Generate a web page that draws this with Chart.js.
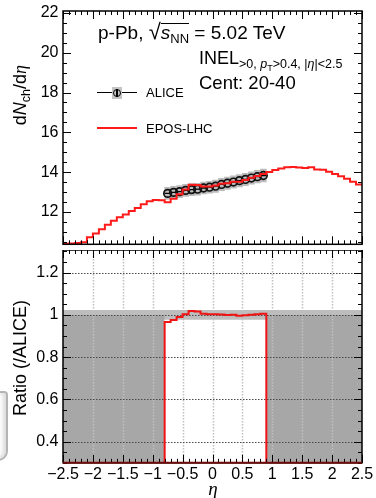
<!DOCTYPE html>
<html lang="en">
<head>
<meta charset="utf-8">
<title>dNch/deta p-Pb 5.02 TeV, Cent 20-40</title>
<style>
body { margin: 0; background: #fff; }
#wrap { position: relative; width: 376px; height: 498px; overflow: hidden; background: #fff;
        font-family: "Liberation Sans", Arial, sans-serif; color: #000; }
#wrap canvas { position: absolute; left: 0; }
.txt { position: absolute; white-space: nowrap; line-height: 1; }
.rot { position: absolute; width: 200px; text-align: right; white-space: nowrap; line-height: 18px;
       font-size: 18px; transform: rotate(-90deg); transform-origin: 0 0; }
.lo { position: relative; line-height: 0; }
.mk { position: absolute; }
</style>
</head>
<body>
<div id="wrap">
  <canvas id="mainChart" width="376" height="250" style="top:0"></canvas>
  <canvas id="ratioChart" width="376" height="248" style="top:250px"></canvas>

  <div class="txt" style="left:98px;top:23px;font-size:19px">p-Pb, <span class="lo" style="font-size:22px">√</span><span style="display:inline-block;line-height:17px;border-top:1.3px solid #000"><i>s</i><span class="lo" style="font-size:13px;top:4px">NN</span></span> = 5.02 TeV</div>
  <div class="txt" style="left:199px;top:49px;font-size:18px">INEL<span class="lo" style="font-size:12.5px;top:4px">&gt;0, <i>p</i><span class="lo" style="font-size:9px;top:3px">T</span>&gt;0.4, |<i>η</i>|&lt;2.5</span></div>
  <div class="txt" style="left:199px;top:74px;font-size:18.5px">Cent: 20-40</div>

  <!-- legend -->
  <div class="mk" style="left:97px;top:92px;width:40px;height:1.3px;background:#000"></div>
  <div class="mk" style="left:112px;top:87px;width:10px;height:12px;background:#c4c4c4"></div>
  <div class="mk" style="left:116.4px;top:88.5px;width:1.2px;height:8.5px;background:#000"></div>
  <div class="mk" style="left:113px;top:88.7px;width:8px;height:8px;box-sizing:border-box;border:1.5px solid #000;border-radius:50%"></div>
  <div class="txt" style="left:146px;top:85.6px;font-size:13px">ALICE</div>
  <div class="mk" style="left:97px;top:127px;width:40px;height:2px;background:#ff1a1a"></div>
  <div class="txt" style="left:146px;top:121.6px;font-size:13px">EPOS-LHC</div>

  <!-- axis titles -->
  <div class="rot" style="left:11px;top:265px">d<i>N</i><span class="lo" style="font-size:12.5px;top:4px">ch</span>/d<i style="font-family:'Liberation Serif',serif">η</i></div>
  <div class="rot" style="left:11px;top:500px">Ratio (/ALICE)</div>
  <div class="txt" style="left:203px;top:479px;width:20px;text-align:center;font-size:19px;font-family:'Liberation Serif',serif"><i>η</i></div>

  <div class="mk" style="left:-14px;top:391px;width:22px;height:70px;box-sizing:border-box;border:2px solid #b4b4b4;border-left:none;border-radius:0 4px 10px 0;box-shadow:inset -3px 0 4px rgba(0,0,0,0.15)"></div>
</div>

<script src="https://cdn.jsdelivr.net/npm/chart.js@4"></script>
<script>
// eta binning of the histograms
const ETA_LO = -2.5;
const ETA_HI = 2.5;
const BIN_W = 0.1;

// EPOS-LHC dNch/deta, 50 bins from -2.5 to 2.5
const eposDndeta = [
  10.40, 10.41, 10.43, 10.47, 10.72, 10.91, 11.13, 11.35, 11.56, 11.73,
  11.87, 12.04, 12.20, 12.38, 12.53, 12.60, 12.59, 12.49, 12.66, 12.89,
  13.12, 13.36, 13.35, 13.27, 13.28, 13.33, 13.41, 13.44, 13.51, 13.52,
  13.60, 13.71, 13.81, 13.91, 14.00, 14.10, 14.18, 14.25, 14.26, 14.23,
  14.21, 14.25, 14.13, 14.12, 14.02, 13.90, 13.79, 13.67, 13.52, 13.38
];

// ALICE measurement, 17 bins from -0.8 to 0.9
const aliceEtaLo = -0.8;
const aliceEtaHi = 0.9;
const aliceDndeta = [
  12.93, 12.98, 13.02, 13.08, 13.12, 13.14, 13.20, 13.24, 13.29,
  13.38, 13.44, 13.50, 13.57, 13.63, 13.70, 13.77, 13.83
];
const aliceStat = [
  0.02, 0.02, 0.02, 0.02, 0.02, 0.02, 0.02, 0.02, 0.02,
  0.02, 0.02, 0.02, 0.02, 0.02, 0.02, 0.02, 0.02
];
const aliceSyst = [
  0.30, 0.30, 0.30, 0.30, 0.30, 0.30, 0.30, 0.30, 0.31,
  0.31, 0.31, 0.31, 0.31, 0.31, 0.31, 0.32, 0.32
];

// ratio panel: relative ALICE uncertainty band and the fill level outside the ALICE range
const ratioBand = 0.023;
const ratioNoData = 1.0;

const etaTicks = [-2.5, -2, -1.5, -1, -0.5, 0, 0.5, 1, 1.5, 2, 2.5];
const dndetaTicks = [12, 14, 16, 18, 20, 22];
const ratioTicks = [0.4, 0.6, 0.8, 1, 1.2];

const r2 = v => Math.round(v * 1000) / 1000;
const edge = i => r2(ETA_LO + i * BIN_W);
const fmtTick = v => String(Math.round(v * 100) / 100).replace('-', '\u2212');

const aliceOffset = Math.round((aliceEtaLo - ETA_LO) / BIN_W);

// histogram as points on the lower bin edges plus the last upper edge
const eposPoints = eposDndeta.map((v, i) => ({x: edge(i), y: v}));
eposPoints.push({x: ETA_HI, y: eposDndeta[eposDndeta.length - 1]});

const aliceCenters = aliceDndeta.map((v, i) => r2(aliceEtaLo + (i + 0.5) * BIN_W));
const alicePoints = aliceDndeta.map((v, i) => ({x: aliceCenters[i], y: v}));
const aliceBoxes = aliceDndeta.map((v, i) => ({x: aliceCenters[i], y: [v - aliceSyst[i], v + aliceSyst[i]]}));

// EPOS / ALICE, zero where ALICE has no bin
const ratioPoints = [{x: ETA_LO, y: 0}];
aliceDndeta.forEach((v, i) => {
    ratioPoints.push({x: r2(aliceEtaLo + i * BIN_W), y: eposDndeta[aliceOffset + i] / v});
});
ratioPoints.push({x: aliceEtaHi, y: 0}, {x: ETA_HI, y: 0});

Chart.defaults.font.family = '"Liberation Sans", Arial, sans-serif';
Chart.defaults.color = '#000';

// frame and inward tick marks on all four sides
const framePlugin = {
    id: 'frame',
    afterDraw(chart, args, opts) {
        const {ctx, chartArea: a} = chart;
        const xs = chart.scales.x, ys = chart.scales.y;
        const isMajor = (v, step) => Math.abs(v / step - Math.round(v / step)) < 1e-6;
        ctx.save();
        ctx.strokeStyle = '#000';
        ctx.lineWidth = 1;
        ctx.beginPath();
        for (let k = Math.ceil(xs.min / opts.xStep[1] - 1e-6); k * opts.xStep[1] <= xs.max + 1e-6; k++) {
            const v = k * opts.xStep[1];
            const len = isMajor(v, opts.xStep[0]) ? opts.majorLen : opts.minorLen;
            const px = Math.round(xs.getPixelForValue(v)) + 0.5;
            ctx.moveTo(px, a.bottom); ctx.lineTo(px, a.bottom - len);
            ctx.moveTo(px, a.top); ctx.lineTo(px, a.top + len);
        }
        for (let k = Math.ceil(ys.min / opts.yStep[1] - 1e-6); k * opts.yStep[1] <= ys.max + 1e-6; k++) {
            const v = k * opts.yStep[1];
            const len = isMajor(v, opts.yStep[0]) ? opts.majorLen : opts.minorLen;
            const py = Math.round(ys.getPixelForValue(v)) + 0.5;
            ctx.moveTo(a.left, py); ctx.lineTo(a.left + len, py);
            ctx.moveTo(a.right, py); ctx.lineTo(a.right - len, py);
        }
        ctx.stroke();
        ctx.lineWidth = 1.5;
        ctx.strokeRect(a.left, a.top, a.right - a.left, a.bottom - a.top);
        if (opts.bottomColor) {
            ctx.strokeStyle = opts.bottomColor;
            ctx.lineWidth = 2;
            ctx.beginPath();
            ctx.moveTo(a.left, a.bottom); ctx.lineTo(a.right, a.bottom);
            ctx.stroke();
        }
        ctx.restore();
    }
};

// ALICE error bars: bin width horizontally, statistical vertically
const errorBarPlugin = {
    id: 'errorBars',
    beforeDatasetDraw(chart, args) {
        if (args.index !== 1) return;
        const {ctx} = chart;
        const xs = chart.scales.x, ys = chart.scales.y;
        ctx.save();
        ctx.strokeStyle = '#000';
        ctx.lineWidth = 1.3;
        ctx.beginPath();
        aliceDndeta.forEach((v, i) => {
            const c = aliceCenters[i];
            const py = ys.getPixelForValue(v);
            ctx.moveTo(xs.getPixelForValue(c - BIN_W / 2), py);
            ctx.lineTo(xs.getPixelForValue(c + BIN_W / 2), py);
            const px = xs.getPixelForValue(c);
            ctx.moveTo(px, ys.getPixelForValue(v - aliceStat[i]));
            ctx.lineTo(px, ys.getPixelForValue(v + aliceStat[i]));
        });
        ctx.stroke();
        ctx.restore();
    }
};

// dotted grid of the ratio panel, above the bands and below the ratio line
const ratioGridPlugin = {
    id: 'ratioGrid',
    beforeDatasetDraw(chart, args) {
        if (args.index !== 0) return;
        const {ctx, chartArea: a} = chart;
        const xs = chart.scales.x, ys = chart.scales.y;
        ctx.save();
        ctx.setLineDash([1.5, 1.5]);
        ctx.strokeStyle = '#c0c0c0';
        ctx.lineWidth = 1.5;
        ctx.beginPath();
        etaTicks.slice(1, -1).forEach(v => {
            const px = Math.round(xs.getPixelForValue(v)) + 0.5;
            ctx.moveTo(px, a.top); ctx.lineTo(px, a.bottom);
        });
        ctx.stroke();
        ctx.strokeStyle = '#4a4a4a';
        ctx.lineWidth = 1.2;
        ctx.beginPath();
        ratioTicks.forEach(v => {
            const py = Math.round(ys.getPixelForValue(v)) + 0.5;
            ctx.moveTo(a.left, py); ctx.lineTo(a.right, py);
        });
        ctx.stroke();
        ctx.restore();
    }
};

const yAxisCommon = (ticks) => ({
    grid: {display: false, drawTicks: false},
    border: {display: false},
    afterBuildTicks: s => { s.ticks = ticks.map(v => ({value: v})); },
    afterFit: s => { s.width = 63; s.paddingTop = 0; s.paddingBottom = 0; },
    ticks: {padding: 4.5, font: {size: 16}, color: '#000', callback: fmtTick}
});

new Chart(document.getElementById('mainChart'), {
    type: 'line',
    data: {
        datasets: [{
            label: 'EPOS-LHC',
            data: eposPoints,
            stepped: 'before',
            borderColor: '#ff1a1a',
            borderWidth: 2,
            pointRadius: 0,
            fill: false
        }, {
            label: 'ALICE',
            data: alicePoints,
            showLine: false,
            pointStyle: 'circle',
            pointRadius: 3.8,
            pointBorderWidth: 1.7,
            pointBorderColor: '#111',
            pointBackgroundColor: 'rgba(0,0,0,0)'
        }, {
            type: 'bar',
            label: 'ALICE syst.',
            data: aliceBoxes,
            backgroundColor: '#bcbcbc',
            borderWidth: 0,
            barPercentage: 1,
            categoryPercentage: 1,
            grouped: false
        }]
    },
    options: {
        responsive: false,
        animation: false,
        events: [],
        layout: {padding: {top: 11, right: 14, bottom: 0, left: 0}},
        plugins: {
            legend: {display: false},
            tooltip: {enabled: false},
            frame: {xStep: [0.5, 0.1], yStep: [2, 0.5], majorLen: 8, minorLen: 4}
        },
        scales: {
            x: {
                type: 'linear', min: ETA_LO, max: ETA_HI, offset: false,
                grid: {display: false, drawTicks: false, offset: false},
                border: {display: false},
                ticks: {display: false},
                afterFit: s => { s.height = 0; s.paddingLeft = 0; s.paddingRight = 0; }
            },
            y: Object.assign({min: 10.37, max: 22.1}, yAxisCommon(dndetaTicks))
        }
    },
    plugins: [errorBarPlugin, framePlugin]
});

const flat = (x0, x1, y) => [{x: x0, y: y}, {x: x1, y: y}];
const noLine = {borderWidth: 0, borderColor: 'rgba(0,0,0,0)', pointRadius: 0};

new Chart(document.getElementById('ratioChart'), {
    type: 'line',
    data: {
        datasets: [{
            label: 'EPOS-LHC / ALICE',
            data: ratioPoints,
            stepped: 'before',
            borderColor: '#f01414',
            borderWidth: 2,
            pointRadius: 0,
            fill: false
        }, Object.assign({
            label: 'no ALICE data (left)',
            data: flat(ETA_LO, aliceEtaLo, ratioNoData),
            fill: 'start',
            backgroundColor: '#a7a7a7'
        }, noLine), Object.assign({
            label: 'no ALICE data (right)',
            data: flat(aliceEtaHi, ETA_HI, ratioNoData),
            fill: 'start',
            backgroundColor: '#a7a7a7'
        }, noLine), Object.assign({
            label: 'ALICE unc. high',
            data: flat(ETA_LO, ETA_HI, 1 + ratioBand),
            fill: '+1',
            backgroundColor: '#bdbdbd'
        }, noLine), Object.assign({
            label: 'ALICE unc. low',
            data: flat(ETA_LO, ETA_HI, 1 - ratioBand),
            fill: false
        }, noLine)]
    },
    options: {
        responsive: false,
        animation: false,
        events: [],
        layout: {padding: {top: 0, right: 14, bottom: 0, left: 0}},
        plugins: {
            legend: {display: false},
            tooltip: {enabled: false},
            frame: {xStep: [0.5, 0.1], yStep: [0.2, 0.05], majorLen: 8, minorLen: 4, bottomColor: '#6e0c0c'}
        },
        scales: {
            x: {
                type: 'linear', min: ETA_LO, max: ETA_HI,
                grid: {display: false, drawTicks: false},
                border: {display: false},
                afterBuildTicks: s => { s.ticks = etaTicks.map(v => ({value: v})); },
                afterFit: s => { s.height = 35.2; s.paddingLeft = 0; s.paddingRight = 0; },
                ticks: {padding: 2, font: {size: 16}, color: '#000', autoSkip: false,
                        maxRotation: 0, minRotation: 0, callback: fmtTick}
            },
            y: Object.assign({min: 0.3, max: 1.307}, yAxisCommon(ratioTicks))
        }
    },
    plugins: [ratioGridPlugin, framePlugin]
});
</script>
</body>
</html>
